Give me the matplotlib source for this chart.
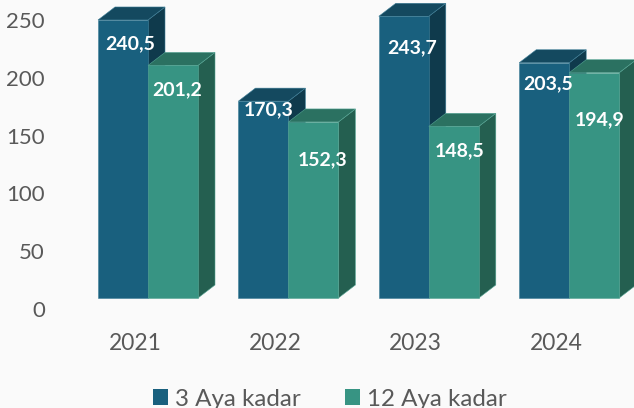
import numpy as np
import matplotlib
matplotlib.use("Agg")
import matplotlib.pyplot as plt
from matplotlib.patches import Polygon, Patch

plt.rcParams['font.family'] = ['Lato', 'DejaVu Sans']

years = ['2021', '2022', '2023', '2024']
y_ticks = [0, 50, 100, 150, 200, 250]
series_names = ['3 Aya kadar', '12 Aya kadar']
values_3m = [240.5, 170.3, 243.7, 203.5]
values_12m = [201.2, 152.3, 148.5, 194.9]
value_labels_3m = ['240,5', '170,3', '243,7', '203,5']
value_labels_12m = ['201,2', '152,3', '148,5', '194,9']

# label offsets from the top middle of each bar front, in pixels
offsets_3m = [(7, -24), (5, -9), (8, -31), (4, -21)]
offsets_12m = [(4, -24), (9, -38), (6, -24), (5, -47)]

# face, top, side
blue = ('#19607E', '#14495F', '#0F3A4C')
green = ('#379483', '#2B7161', '#245F50')
edge_blue = '#3F7F98'
edge_green = '#55A594'

PX_X = 140.4
PX_Y = 1.156
bar_w = 50 / PX_X
dx = 17 / PX_X
dy = 13 / PX_Y

fig = plt.figure(figsize=(6.34, 4.08), dpi=100, facecolor='#FAFAFA')
ax = fig.add_axes([0, 0, 1, 1])
ax.set_xlim(-148 / PX_X, (634 - 148) / PX_X)
ax.set_ylim(-110 / PX_Y, 298 / PX_Y)
ax.axis('off')


def draw_box(ax, x0, h, colors, edge, z):
    """Front, top and side of one pseudo 3D bar"""
    x1 = x0 + bar_w
    front = [(x0, 0), (x1, 0), (x1, h), (x0, h)]
    top = [(x0, h), (x1, h), (x1 + dx, h + dy), (x0 + dx, h + dy)]
    side = [(x1, 0), (x1 + dx, dy), (x1 + dx, h + dy), (x1, h)]
    for pts, c in ((side, colors[2]), (top, colors[1]), (front, colors[0])):
        ax.add_patch(Polygon(pts, closed=True, facecolor=c, edgecolor=edge,
                             linewidth=0.4, zorder=z))


for i in range(len(years)):
    draw_box(ax, i - bar_w, values_3m[i], blue, edge_blue, 2 + i * 2)
    draw_box(ax, i, values_12m[i], green, edge_green, 3 + i * 2)

    ax.annotate(value_labels_3m[i], (i - bar_w / 2, values_3m[i]),
                xytext=offsets_3m[i], textcoords='offset pixels',
                ha='center', va='center', color='white', fontsize=14,
                fontweight='bold', zorder=20)
    ax.annotate(value_labels_12m[i], (i + bar_w / 2, values_12m[i]),
                xytext=offsets_12m[i], textcoords='offset pixels',
                ha='center', va='center', color='white', fontsize=14,
                fontweight='bold', zorder=20)

    ax.annotate(years[i], (i, 0), xytext=(-13, -46), textcoords='offset pixels',
                ha='center', va='center', color='#595959', fontsize=16.4)

for t in y_ticks:
    ax.annotate(str(t), (-103 / PX_X, t), xytext=(0, -13),
                textcoords='offset pixels', ha='right', va='center',
                color='#595959', fontsize=16)

handles = [Patch(facecolor=blue[0], label=series_names[0]),
           Patch(facecolor=green[0], label=series_names[1])]
fig.legend(handles=handles, loc='center', bbox_to_anchor=(330 / 634, 9 / 408),
           ncol=2, frameon=False, fontsize=17.4, labelcolor='#595959',
           handlelength=0.62, handleheight=0.62, handletextpad=0.29,
           columnspacing=1.86, borderpad=0)

fig.savefig('out.png', dpi=100, facecolor=fig.get_facecolor())
